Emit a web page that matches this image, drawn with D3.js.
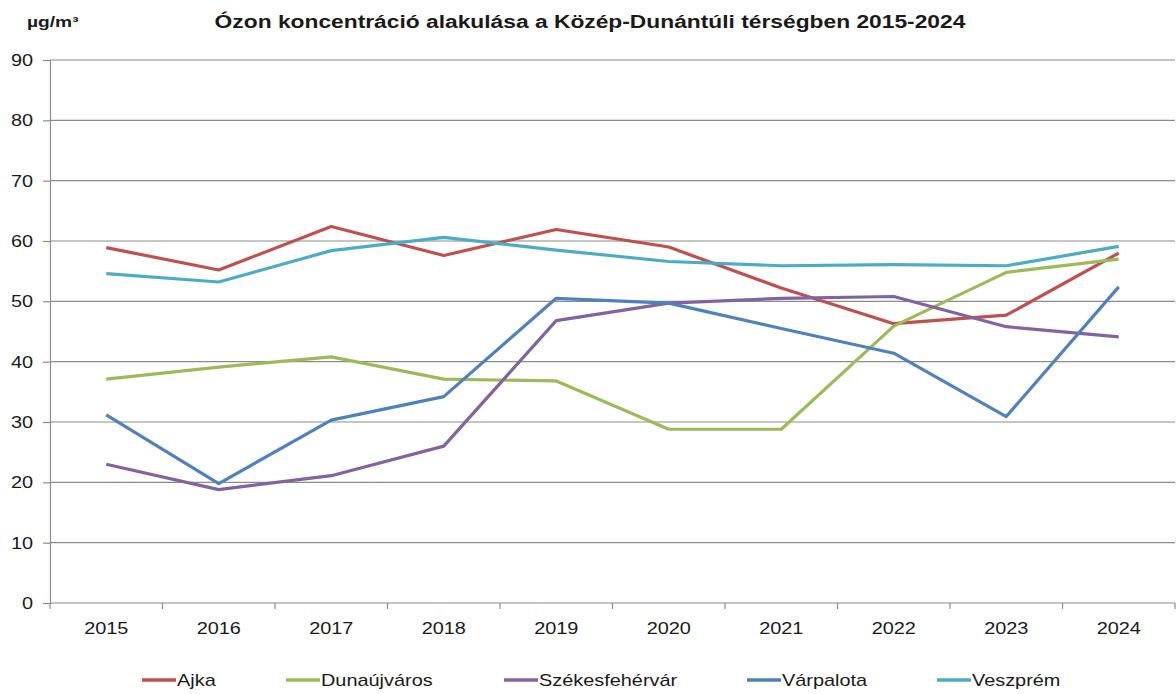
<!DOCTYPE html>
<html>
<head>
<meta charset="utf-8">
<script src="https://cdn.jsdelivr.net/npm/d3@7"></script>
<style>
body{margin:0;background:#fff;}
text{font-family:"Liberation Sans",Arial,sans-serif;fill:#1a1a1a;}
</style>
</head>
<body>
<svg width="1176" height="694"></svg>
<script>
// data
var years = ['2015','2016','2017','2018','2019','2020','2021','2022','2023','2024'];
var yTicks = [0,10,20,30,40,50,60,70,80,90];
var names = ['Ajka','Dunaújváros','Székesfehérvár','Várpalota','Veszprém'];
var colors = ['#c0504d','#9bbb59','#8064a2','#4f81bd','#4bacc6'];
var ajka = [58.9,55.2,62.4,57.6,61.9,59.0,52.2,46.3,47.7,58.0];
var dunaujvaros = [37.1,39.1,40.8,37.1,36.8,28.8,28.8,45.9,54.8,57.0];
var szekesfehervar = [23.0,18.8,21.1,26.0,46.8,49.7,50.5,50.8,45.8,44.1];
var varpalota = [31.2,19.8,30.3,34.2,50.5,49.7,45.5,41.4,30.9,52.4];
var veszprem = [54.6,53.2,58.4,60.6,58.5,56.6,55.9,56.1,55.9,59.1];
var series = [ajka,dunaujvaros,szekesfehervar,varpalota,veszprem];

var svg = d3.select('svg');
var margin = {left:50,right:1,top:60,bottom:91};
var width = +svg.attr('width'), height = +svg.attr('height');
var innerwidth = width - margin.left - margin.right;
var innerheight = height - margin.top - margin.bottom;

// the original text is a bit wider than Arial, so stretch it sideways
function stretch(sel, sx){
	sel.each(function(){
		var t = d3.select(this);
		var x = +t.attr('x') || 0, y = +t.attr('y') || 0;
		t.attr('x',0).attr('y',0).attr('transform',`translate(${x},${y}) scale(${sx},1)`);
	});
}

var xscale = d3.scaleBand().domain(years).range([0,innerwidth]);
var yscale = d3.scaleLinear().domain([0,90]).range([innerheight,0]);

var g = svg.append('g').attr('transform',`translate(${margin.left},${margin.top})`);

// gridlines
g.append('g').selectAll('line').data(yTicks.filter(d => d>0)).enter()
	.append('line')
	.attr('x1',0).attr('x2',innerwidth)
	.attr('y1',d => yscale(d)).attr('y2',d => yscale(d))
	.attr('stroke','#8c8c8c').attr('stroke-width',1.2);

// y axis
var yaxis = g.append('g').call(d3.axisLeft(yscale).tickValues(yTicks).tickSize(7).tickPadding(10));
yaxis.select('.domain').attr('stroke','#8c8c8c').attr('stroke-width',1.2);
yaxis.selectAll('.tick line').attr('stroke','#8c8c8c').attr('stroke-width',1.2);
yaxis.selectAll('text').attr('font-size',17).attr('fill','#1a1a1a').call(stretch,1.17);

// x axis with ticks on band edges
var xaxis = g.append('g').attr('transform',`translate(0,${innerheight})`);
xaxis.append('line').attr('x1',0).attr('x2',innerwidth).attr('stroke','#8c8c8c').attr('stroke-width',1.2);
xaxis.selectAll('line.t').data(years.concat(['end'])).enter()
	.append('line').attr('class','t')
	.attr('x1',(d,i) => i*xscale.step()).attr('x2',(d,i) => i*xscale.step())
	.attr('y1',0).attr('y2',6)
	.attr('stroke','#8c8c8c').attr('stroke-width',1.2);
xaxis.selectAll('text').data(years).enter()
	.append('text')
	.attr('x',d => xscale(d)+xscale.bandwidth()/2)
	.attr('y',31)
	.attr('text-anchor','middle')
	.attr('font-size',17)
	.text(d => d)
	.call(stretch,1.17);

// lines
var line = d3.line()
	.x((d,i) => xscale(years[i])+xscale.bandwidth()/2)
	.y(d => yscale(d));
g.append('g').selectAll('path').data(series).enter()
	.append('path')
	.attr('d',line)
	.attr('fill','none')
	.attr('stroke',(d,i) => colors[i])
	.attr('stroke-width',3.2)
	.attr('stroke-linejoin','round');

// title and unit
svg.append('text').attr('x',590).attr('y',28).attr('text-anchor','middle')
	.attr('font-size',19).attr('font-weight','bold')
	.text('Ózon koncentráció alakulása a Közép-Dunántúli térségben 2015-2024')
	.call(stretch,1.2);
svg.append('text').attr('x',27).attr('y',27)
	.attr('font-size',15).attr('font-weight','bold')
	.text('µg/m³')
	.call(stretch,1.28);

// legend
var legendX = [142,286,504,747,937];
var legend = svg.append('g').attr('transform','translate(0,680)');
var items = legend.selectAll('g').data(names).enter()
	.append('g').attr('transform',(d,i) => `translate(${legendX[i]},0)`);
items.append('line').attr('x1',0).attr('x2',34).attr('y1',0).attr('y2',0)
	.attr('stroke',(d,i) => colors[i]).attr('stroke-width',3.5);
items.append('text').attr('x',35).attr('y',6).attr('font-size',17).text(d => d)
	.call(stretch,1.17);
</script>
</body>
</html>
